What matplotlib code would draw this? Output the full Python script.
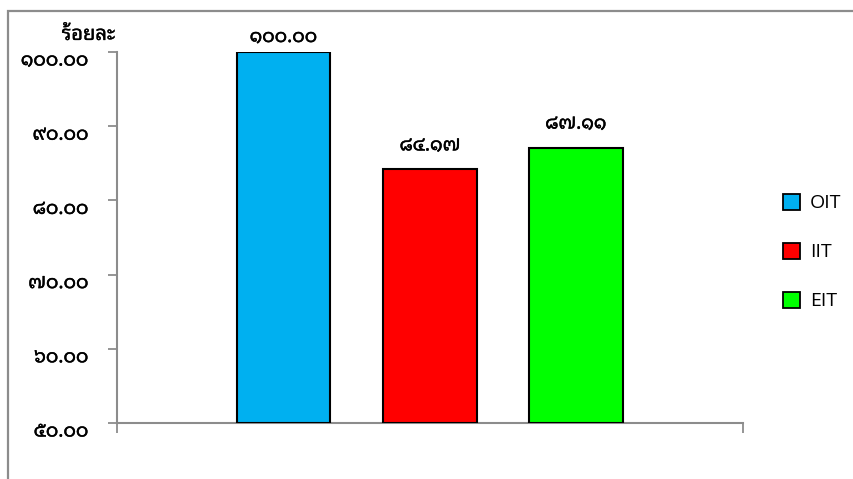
import matplotlib
matplotlib.use("Agg")
import matplotlib.pyplot as plt
from matplotlib.patches import Patch, Rectangle
import matplotlib.transforms as mtransforms
import matplotlib.patheffects as pe

# ---- data ----
series = ["OIT", "IIT", "EIT"]
values = [100.00, 84.17, 87.11]
value_labels = ["๑๐๐.๐๐", "๘๔.๑๗", "๘๗.๑๑"]
y_ticks = [50, 60, 70, 80, 90, 100]
y_tick_labels = ["๕๐.๐๐", "๖๐.๐๐", "๗๐.๐๐", "๘๐.๐๐", "๙๐.๐๐", "๑๐๐.๐๐"]
y_title = "ร้อยละ"

colors = ["#00B0F0", "#FF0000", "#00FF00"]
THAI = ["Noto Sans Thai Looped", "Loma", "DejaVu Sans"]
LAT = ["Open Sans", "DejaVu Sans"]
GRAY = "#8C8C8C"
heavy = [pe.withStroke(linewidth=0.3, foreground="black")]

W, H = 854, 479
fig = plt.figure(figsize=(W / 100, H / 100), dpi=100)

# outer chart frame (partially visible)
fig.patches.append(Rectangle((8 / W, -0.1), 1.2, 1 - 11 / H + 0.1,
                             transform=fig.transFigure, fill=False,
                             edgecolor=GRAY, linewidth=1.6))

ax = fig.add_axes([117 / W, 1 - 423 / H, 626 / W, 371 / H])
ax.set_ylim(50, 100)
ax.set_xlim(-0.5, 0.5)

offsets = [-0.234, 0.0, 0.233]
width = 0.150
bars = ax.bar(offsets, [v - 50 for v in values], bottom=50, width=width,
              color=colors, edgecolor="black", linewidth=1.5, zorder=3)

for b, v, lab in zip(bars, values, value_labels):
    dy = 15 if v >= 99.9 else 24
    ax.annotate(lab, (b.get_x() + b.get_width() / 2, v),
                xytext=(0, dy * 0.72), textcoords="offset points",
                ha="center", va="center", fontsize=13.8, fontweight="bold",
                family=THAI, annotation_clip=False, path_effects=heavy)

for s in ["top", "right"]:
    ax.spines[s].set_visible(False)
for s in ["left", "bottom"]:
    ax.spines[s].set_color(GRAY)
    ax.spines[s].set_linewidth(1.5)

ax.set_yticks(y_ticks)
ax.set_yticklabels(y_tick_labels, fontsize=13.8, fontweight="bold", family=THAI)
for t in ax.get_yticklabels():
    t.set_path_effects(heavy)
ax.set_xticks([-0.5, 0.5])
ax.set_xticklabels([])
ax.tick_params(axis="y", direction="out", length=6.5, width=1.3, color=GRAY, pad=14)
ax.tick_params(axis="x", direction="out", length=7, width=1.3, color=GRAY)

shift = mtransforms.ScaledTranslation(0, -6 / 100, fig.dpi_scale_trans)
for t in ax.get_yticklabels():
    t.set_transform(t.get_transform() + shift)

fig.text(115 / W, 1 - 35 / H, y_title, ha="right", va="center",
         fontsize=14.5, family=THAI,
         path_effects=[pe.withStroke(linewidth=0.2, foreground="black")])

handles = [Patch(facecolor=c, edgecolor="black", linewidth=1.3) for c in colors]
leg = fig.legend(handles, series, loc="center left",
                 bbox_to_anchor=(783 / W, 1 - 252 / H),
                 frameon=False, borderpad=0, borderaxespad=0,
                 handlelength=0.9, handleheight=0.9, handletextpad=0.5,
                 labelspacing=1.55, prop={"family": LAT, "size": 14})

fig.savefig("out.png", dpi=100)
